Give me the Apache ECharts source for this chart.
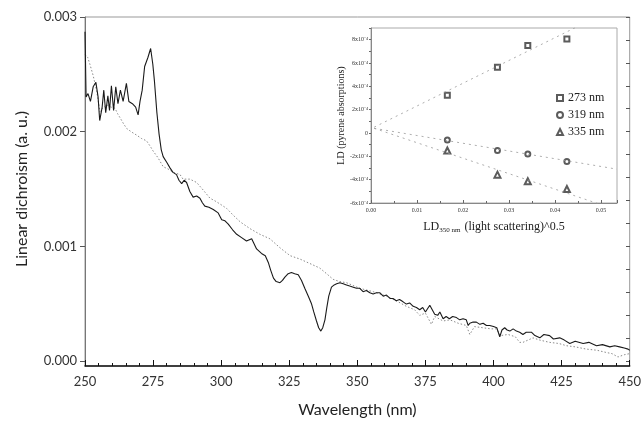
<!DOCTYPE html>
<html>
<head>
<meta charset="utf-8">
<script src="https://cdn.jsdelivr.net/npm/echarts@6/dist/echarts.min.js"></script>
<style>
html, body { margin: 0; padding: 0; background: #fff; }
#chart { width: 644px; height: 423px; }
</style>
</head>
<body>
<div id="chart"></div>
<script>
// main spectrum, solid line
var solidWl = [250, 250.4, 251.1, 252, 253, 254, 254.8, 255.4, 256.3, 256.9, 257.6, 258.4, 259, 259.7, 260.5, 261.3, 262.1, 263, 264, 265.2,
	266.1, 267.4, 268.6, 269.5, 270.2, 271, 271.9, 273.1, 274.1, 274.9, 275.5, 276.4, 277.2, 278, 278.7, 280, 281.2, 282.3, 283.6, 284.5,
	285.5, 286.4, 287.3, 288.5, 289.7, 291, 292.2, 293.1, 294, 295.5, 297.1, 298.9, 300.2, 301.4, 302.6, 304.2, 305.7, 307.5, 309.3, 311.2,
	313, 314.8, 316.2, 317.3, 318.2, 319.2, 320.2, 321.6, 322.5, 323.4, 324.6, 325.8, 327, 328.3, 329.5, 330.7, 332, 333.2, 334, 335,
	335.8, 336.6, 337.3, 338.1, 338.8, 339.5, 340.5, 341.5, 342.4, 343.6, 344.8, 346, 347.2, 348.5, 349.7, 350.9, 352.1, 353.3, 354.6, 355.8,
	357, 358.3, 359.5, 360.7, 362, 363.1, 364.3, 365.5, 366.8, 368, 369.2, 370.5, 371.7, 372.9, 374, 375, 376.6, 377.5, 378.4, 379.5,
	380.3, 381.5, 382.6, 383.8, 385, 386.4, 387.6, 388.8, 390, 390.7, 391.3, 392.5, 393.7, 395, 396.2, 397.4, 398.6, 400, 401.2, 402.3,
	403.1, 404.1, 405, 406, 407.2, 408.4, 409.6, 410.8, 412, 413.9, 415.2, 417, 418.5, 420.6, 422, 424.3, 426, 428, 430, 432.9,
	435, 437.8, 440, 442.7, 444.5, 446.3, 448, 449.4, 450];
var solidLd = [0.00287, 0.00229, 0.00232, 0.00225, 0.00238, 0.00242, 0.00229, 0.00208, 0.00220, 0.00235, 0.00215, 0.00230, 0.00217, 0.00239, 0.00217, 0.00238, 0.00223, 0.00235, 0.00225, 0.00241,
	0.00225, 0.00223, 0.00220, 0.00213, 0.00225, 0.00235, 0.00256, 0.00264, 0.00272, 0.00258, 0.00243, 0.00215, 0.00196, 0.00182, 0.00176, 0.00171, 0.00166, 0.00162, 0.00160, 0.00155,
	0.00152, 0.00155, 0.00153, 0.00145, 0.00140, 0.00141, 0.00139, 0.00135, 0.00132, 0.00131, 0.00129, 0.00126, 0.00120, 0.00119, 0.00116, 0.00111, 0.00107, 0.00104, 0.00101, 0.00103,
	0.00094, 0.00090, 0.00088, 0.00082, 0.00075, 0.00068, 0.00065, 0.00064, 0.00066, 0.00069, 0.00072, 0.00073, 0.00072, 0.00071, 0.00066, 0.00059, 0.00052, 0.00045, 0.00038, 0.00030,
	0.00024, 0.00021, 0.00024, 0.00031, 0.00042, 0.00052, 0.00060, 0.00062, 0.00063, 0.00064, 0.00063, 0.00062, 0.00061, 0.00060, 0.00059, 0.00059, 0.00056, 0.00057, 0.00055, 0.00054,
	0.00055, 0.00055, 0.00052, 0.00053, 0.00050, 0.00050, 0.00048, 0.00049, 0.00047, 0.00045, 0.00046, 0.00043, 0.00042, 0.00040, 0.00042, 0.00038, 0.00044, 0.00040, 0.00036, 0.00035,
	0.00038, 0.00032, 0.00034, 0.00032, 0.00034, 0.00033, 0.00031, 0.00032, 0.00031, 0.00026, 0.00028, 0.00029, 0.00029, 0.00027, 0.00028, 0.00026, 0.00026, 0.00025, 0.00024, 0.00016,
	0.00022, 0.00024, 0.00022, 0.00021, 0.00023, 0.00021, 0.00020, 0.00018, 0.00020, 0.00020, 0.00017, 0.00015, 0.00018, 0.00017, 0.00014, 0.00015, 0.00013, 0.00010, 0.00012, 0.00010,
	0.00011, 0.00008, 0.00009, 0.00007, 0.00008, 0.00007, 0.00006, 0.00005, 0.00004];

// main spectrum, dotted line
var dotWl = [250, 251, 251.8, 253, 254.3, 255.5, 256.5, 258, 259.5, 261, 262, 263, 264.2, 265.3, 267, 269, 270.8, 272.6, 274, 275,
	276.8, 278.7, 280.5, 282.4, 284.9, 286, 288.5, 291, 293.5, 295.9, 297.5, 299.5, 302, 304.4, 307, 310.6, 314.2, 317.9, 321.6, 325.3,
	328.9, 332.6, 336.2, 338.7, 341.1, 343.5, 346, 350.9, 355.8, 360.7, 365, 368, 371, 372.9, 375, 377.2, 378.4, 381.5, 384, 387,
	390, 391.3, 393, 396, 399, 401.1, 402.5, 405.3, 408, 409.6, 410.8, 414.5, 417, 420.6, 424, 426.8, 430, 434.1, 438, 441.4,
	443.5, 445.7, 448, 450];
var dotLd = [0.00267, 0.00264, 0.00258, 0.00248, 0.00234, 0.00216, 0.00219, 0.00222, 0.00220, 0.00219, 0.00214, 0.00210, 0.00205, 0.00201, 0.00198, 0.00195, 0.00192, 0.00190, 0.00185, 0.00181,
	0.00175, 0.00167, 0.00165, 0.00162, 0.00160, 0.00156, 0.00156, 0.00153, 0.00146, 0.00139, 0.00137, 0.00134, 0.00130, 0.00124, 0.00118, 0.00112, 0.00107, 0.00103, 0.00095, 0.00088,
	0.00085, 0.00081, 0.00077, 0.00072, 0.00067, 0.00065, 0.00064, 0.00059, 0.00056, 0.00052, 0.00047, 0.00043, 0.00040, 0.00035, 0.00037, 0.00027, 0.00034, 0.00030, 0.00031, 0.00028,
	0.00026, 0.00018, 0.00025, 0.00024, 0.00023, 0.00023, 0.00017, 0.00018, 0.00016, 0.00011, 0.00011, 0.00015, 0.00013, 0.00011, 0.00010, 0.00008, 0.00007, 0.00005, 0.00004, 0.00002,
	0.00001, -0.00002, 0.00000, 0.00001];

// inset: LD of pyrene bands vs LD at 350 nm
var insetX = [0.0166, 0.0275, 0.0341, 0.0426];
var ld273 = [3.23e-4, 5.64e-4, 7.49e-4, 8.06e-4];
var ld319 = [-0.6e-4, -1.5e-4, -1.8e-4, -2.44e-4];
var ld335 = [-1.5e-4, -3.57e-4, -4.14e-4, -4.8e-4];
// fitted lines (end points)
var fitX = [0.0007, 0.0535];
var fit273 = [0.5e-4, 10.8e-4];
var fit319 = [0.4e-4, -3.1e-4];
var fit335 = [0.4e-4, -6.6e-4];

function pairs(xs, ys) {
	var res = [];
	for (var i = 0; i < xs.length; i++) {
		res.push([xs[i], ys[i]]);
	}
	return res;
}

function insetLabel(v) {
	var n = Math.round(v * 1e4);
	if (n == 0) return '0';
	return n + 'x10\u207B\u2074';
}

var sans = 'Lato';
var serif = 'Liberation Serif';

var myChart = echarts.init(document.getElementById('chart'));
var option = {
	animation: false,
	backgroundColor: '#fff',
	grid: [
		{ left: 85, right: 14, top: 17, bottom: 51, show: true, borderColor: '#999', borderWidth: 1 },
		{ left: 85, right: 14, top: 17, bottom: 62 },
		{ left: 371, right: 27, top: 28, bottom: 220, show: true, backgroundColor: '#fff', borderColor: '#aaa', borderWidth: 1 }
	],
	xAxis: [
		{
			gridIndex: 0, type: 'value', min: 250, max: 450, interval: 25,
			name: 'Wavelength (nm)', nameLocation: 'middle', nameGap: 36,
			nameTextStyle: { fontFamily: sans, fontSize: 16, color: '#222' },
			axisLine: { onZero: false, lineStyle: { color: '#111', width: 1.5 } },
			axisTick: { inside: true, length: 6, lineStyle: { color: '#111' } },
			minorTick: { show: true, splitNumber: 5, length: 3, lineStyle: { color: '#111' } },
			axisLabel: { fontFamily: sans, fontSize: 13, color: '#333', margin: 9 },
			splitLine: { show: false }
		},
		{ gridIndex: 1, type: 'value', min: 0, max: 1, show: false },
		{
			gridIndex: 2, type: 'value', min: 0, max: 0.0535, interval: 0.01,
			name: '{a|LD}{b|350 nm}{a| (light scattering)^0.5}', nameLocation: 'middle', nameGap: 17,
			nameTextStyle: {
				rich: {
					a: { fontFamily: serif, fontSize: 12, color: '#222' },
					b: { fontFamily: serif, fontSize: 7, color: '#222', padding: [7, 1, 0, 0] }
				}
			},
			axisLine: { onZero: false, lineStyle: { color: '#888' } },
			axisTick: { inside: true, length: 3, lineStyle: { color: '#666' } },
			minorTick: { show: true, splitNumber: 2, length: 2, lineStyle: { color: '#666' } },
			axisLabel: {
				fontFamily: serif, fontSize: 6, color: '#333', margin: 4, showMaxLabel: false,
				formatter: function (v) { return v.toFixed(2); }
			},
			splitLine: { show: false }
		}
	],
	yAxis: [
		{
			gridIndex: 0, type: 'value', min: -0.0001, max: 0.003,
			axisLine: { show: true, onZero: false, lineStyle: { color: '#777' } },
			axisTick: { show: false }, axisLabel: { show: false }, splitLine: { show: false }
		},
		{
			gridIndex: 1, type: 'value', min: 0, max: 0.003, interval: 0.001,
			name: 'Linear dichroism (a. u.)', nameLocation: 'middle', nameGap: 55,
			nameTextStyle: { fontFamily: sans, fontSize: 16, color: '#222' },
			axisLine: { show: false, onZero: false },
			axisTick: { length: 5, lineStyle: { color: '#555' } },
			axisLabel: {
				fontFamily: sans, fontSize: 13, color: '#333', margin: 8,
				formatter: function (v) { return v.toFixed(3); }
			},
			splitLine: { show: false }
		},
		{
			gridIndex: 1, type: 'value', min: 0, max: 0.003, interval: 0.0002,
			axisLine: { show: false, onZero: false },
			axisTick: { inside: true, length: 4, lineStyle: { color: '#555' } },
			axisLabel: { show: false }, splitLine: { show: false }
		},
		{
			gridIndex: 2, type: 'value', min: -6e-4, max: 9e-4, interval: 2e-4,
			name: 'LD (pyrene absorptions)', nameLocation: 'middle', nameGap: 18,
			nameTextStyle: { fontFamily: serif, fontSize: 10, color: '#222' },
			axisLine: { onZero: false, lineStyle: { color: '#888' } },
			axisTick: { length: 2, lineStyle: { color: '#666' } },
			minorTick: { show: true, splitNumber: 2, length: 2, lineStyle: { color: '#666' } },
			axisLabel: { fontFamily: serif, fontSize: 6, color: '#333', margin: 3, showMaxLabel: false, formatter: insetLabel },
			splitLine: { show: false }
		}
	],
	legend: {
		orient: 'vertical', left: 551, top: 87, itemWidth: 6, itemHeight: 6, itemGap: 5,
		textStyle: { fontFamily: serif, fontSize: 12, color: '#222', lineHeight: 12 },
		data: ['273 nm', '319 nm', '335 nm']
	},
	series: [
		{
			name: 'dotted', type: 'line', xAxisIndex: 0, yAxisIndex: 0, showSymbol: false,
			data: pairs(dotWl, dotLd),
			lineStyle: { color: '#8a8a8a', width: 1, type: [1.5, 2] }
		},
		{
			name: 'solid', type: 'line', xAxisIndex: 0, yAxisIndex: 0, showSymbol: false,
			data: pairs(solidWl, solidLd),
			lineStyle: { color: '#1a1a1a', width: 1.1 }
		},
		{
			type: 'line', xAxisIndex: 2, yAxisIndex: 3, showSymbol: false, silent: true,
			data: pairs(fitX, fit273), lineStyle: { color: '#999', width: 0.8, type: [2, 4] }
		},
		{
			type: 'line', xAxisIndex: 2, yAxisIndex: 3, showSymbol: false, silent: true,
			data: pairs(fitX, fit319), lineStyle: { color: '#999', width: 0.8, type: [2, 4] }
		},
		{
			type: 'line', xAxisIndex: 2, yAxisIndex: 3, showSymbol: false, silent: true,
			data: pairs(fitX, fit335), lineStyle: { color: '#999', width: 0.8, type: [2, 4] }
		},
		{
			name: '273 nm', type: 'scatter', xAxisIndex: 2, yAxisIndex: 3, symbol: 'emptyRect', symbolSize: 5,
			data: pairs(insetX, ld273), itemStyle: { color: '#333', borderWidth: 0.8 }
		},
		{
			name: '319 nm', type: 'scatter', xAxisIndex: 2, yAxisIndex: 3, symbol: 'emptyCircle', symbolSize: 5,
			data: pairs(insetX, ld319), itemStyle: { color: '#333', borderWidth: 0.8 }
		},
		{
			name: '335 nm', type: 'scatter', xAxisIndex: 2, yAxisIndex: 3, symbol: 'emptyTriangle', symbolSize: 6,
			data: pairs(insetX, ld335), itemStyle: { color: '#333', borderWidth: 0.8 }
		}
	]
};
myChart.setOption(option);
</script>
</body>
</html>
